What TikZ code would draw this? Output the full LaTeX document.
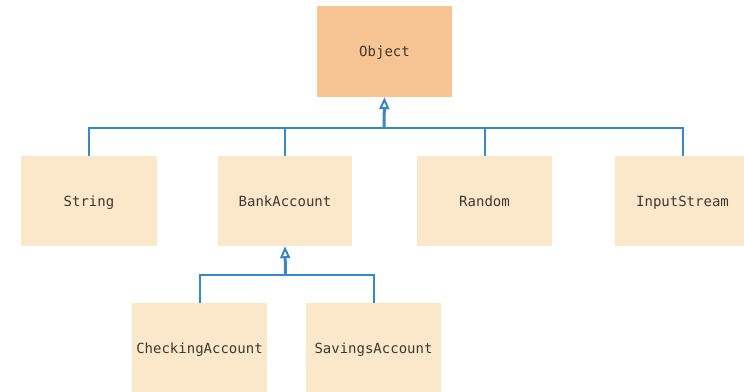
\documentclass[tikz,border=0pt]{standalone}
\usepackage{fontspec}
\setmonofont{DejaVu Sans Mono}
\usetikzlibrary{arrows.meta}
\definecolor{objfill}{HTML}{F7C594}
\definecolor{clsfill}{HTML}{FBE8CB}
\definecolor{linkblue}{HTML}{3A87C8}
\definecolor{txtgray}{HTML}{3E3833}
\tikzset{
  cls/.style={rectangle, fill=clsfill, draw=none, minimum width=135pt, minimum height=90pt,
    inner sep=0pt, text height=12pt, text depth=2pt,
    font=\ttfamily\fontsize{14}{16}\selectfont, text=txtgray},
  objcls/.style={cls, fill=objfill, minimum height=91pt},
  bus/.style={draw=linkblue, line width=2pt},
  inh/.style={draw=linkblue, line width=3pt, -{Triangle[open, length=12pt, width=10pt, line width=2pt]}}
}
\begin{document}
\begin{tikzpicture}[x=1pt,y=-1pt]
\useasboundingbox (0,0) rectangle (744,391);
\node[objcls] (o) at (384.5,51.5) {Object};
\node[cls, minimum width=136pt] (s) at (89,201) {String};
\node[cls, minimum width=134pt] (b) at (285,201) {BankAccount};
\node[cls] (r) at (484.5,201) {Random};
\node[cls] (is) at (682.5,201) {InputStream};
\node[cls] (c) at (199.5,348) {CheckingAccount};
\node[cls] (sa) at (373.5,348) {SavingsAccount};
\coordinate (j1) at (384,128);
\coordinate (j2) at (285.5,275);
\draw[bus] (s.north) |- (j1) -| (is.north);
\draw[bus] (b.north) -- (b.north |- j1);
\draw[bus] (r.north) -- (r.north |- j1);
\draw[inh] (j1) -- (o.south);
\draw[bus] (c.north) |- (j2) -| (sa.north);
\draw[inh] (j2) -- (b.south);
\end{tikzpicture}
\end{document}
